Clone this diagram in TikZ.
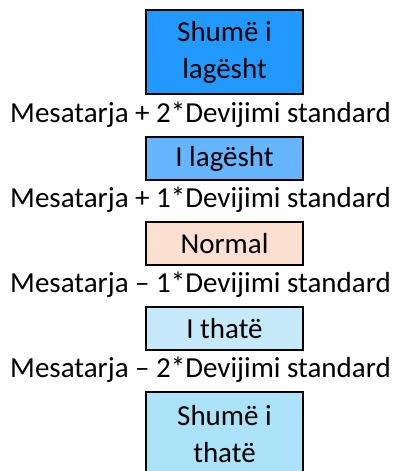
\documentclass[tikz,border=0pt]{standalone}
\usepackage{fontspec}
\setmainfont{Carlito}
\definecolor{c1}{HTML}{2299FF}
\definecolor{c2}{HTML}{66B5FF}
\definecolor{c3}{HTML}{FBE0D2}
\definecolor{c4}{HTML}{C6E9FA}
\definecolor{c5}{HTML}{ACE2F7}
\tikzset{
  lvl/.style={draw=black, line width=2pt, minimum width=157pt, inner sep=0pt, font=\fontsize{29}{37}\selectfont, align=center},
  thr/.style={font=\fontsize{29}{30}\selectfont, inner sep=0pt}
}
\begin{document}
\begin{tikzpicture}[x=1pt,y=-1pt]
\useasboundingbox (0,0) rectangle (396,471);
\clip (0,0) rectangle (396,471);
\node[lvl, fill=c1, minimum height=84pt] (b1) at (224.5,52) {Shumë i\\lagësht};
\node[thr] (t1) at (200.5,115) {Mesatarja + 2*Devijimi standard};
\node[lvl, fill=c2, minimum height=43pt] (b2) at (224.5,158.5) {I lagësht};
\node[thr] (t2) at (200.5,200) {Mesatarja + 1*Devijimi standard};
\node[lvl, fill=c3, minimum height=43pt] (b3) at (224.5,243.5) {Normal};
\node[thr] (t3) at (200.5,285) {Mesatarja – 1*Devijimi standard};
\node[lvl, fill=c4, minimum height=43pt] (b4) at (224.5,328.5) {I thatë};
\node[thr] (t4) at (200.5,370) {Mesatarja – 2*Devijimi standard};
\node[lvl, fill=c5, minimum height=84pt] (b5) at (224.5,434) {Shumë i\\thatë};
\end{tikzpicture}
\end{document}
